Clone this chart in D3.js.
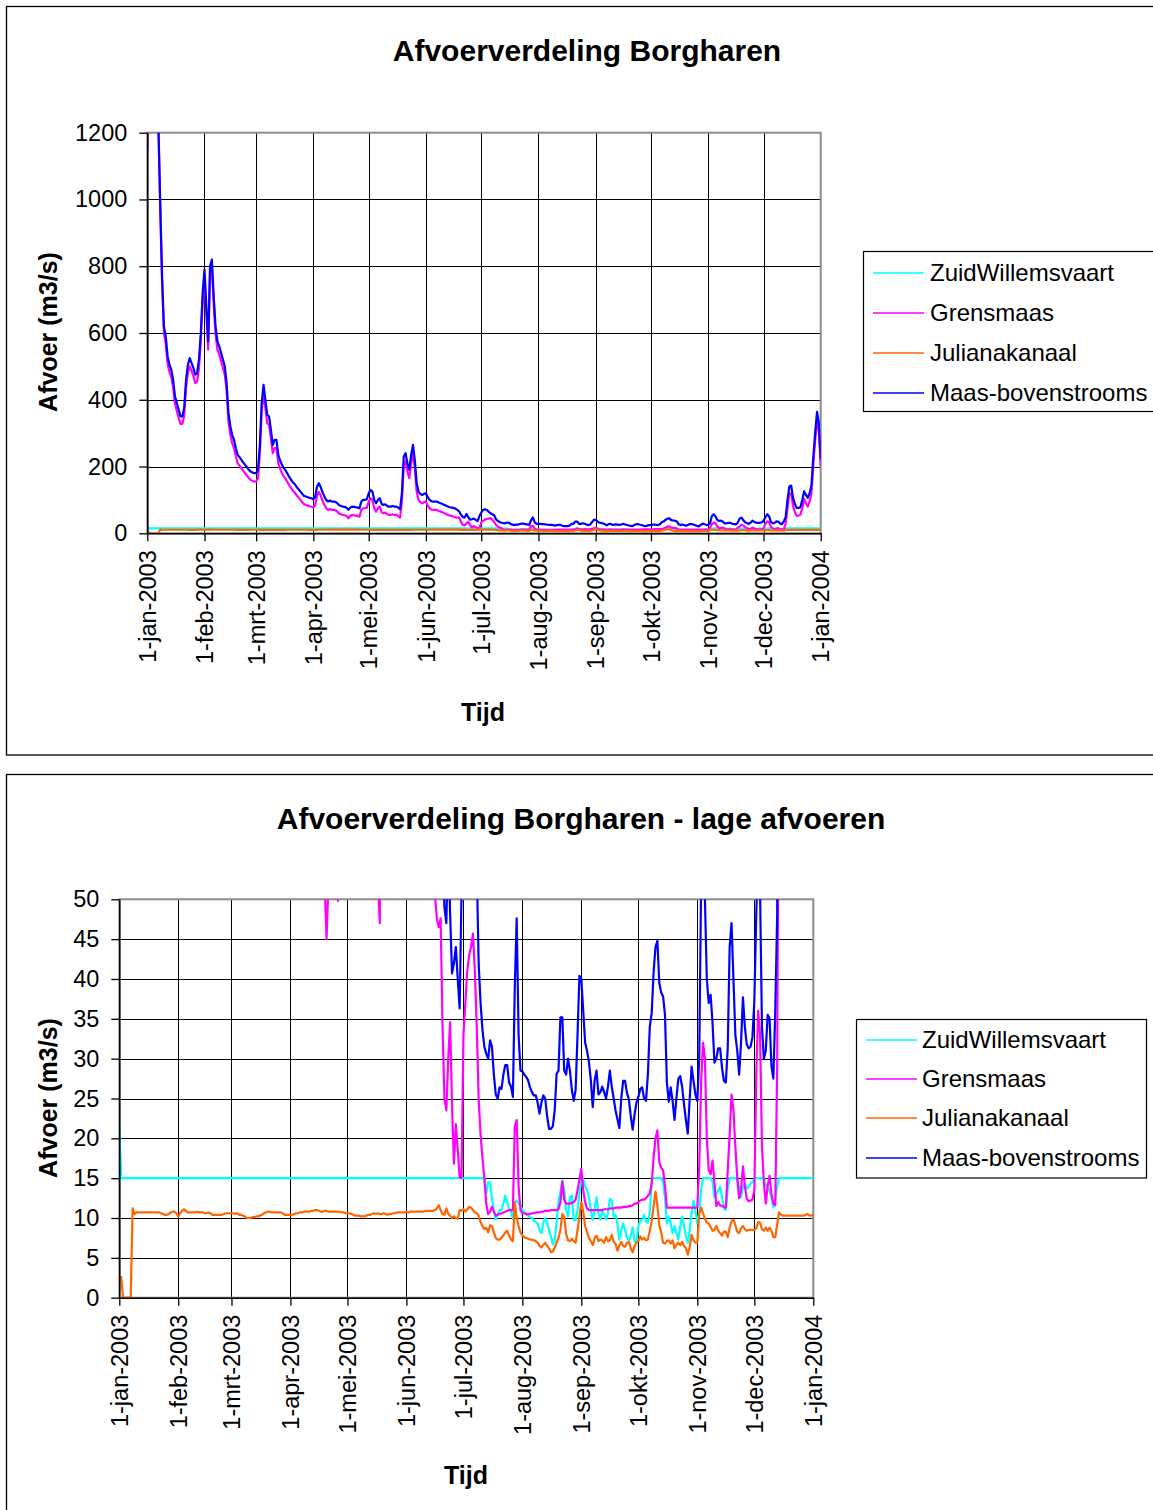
<!DOCTYPE html>
<html>
<head>
<meta charset="utf-8">
<script src="https://cdn.jsdelivr.net/npm/d3@7/dist/d3.min.js"></script>
<style>
  html, body { margin: 0; padding: 0; background: #ffffff; }
  svg { display: block; font-family: "Liberation Sans", Arial, Helvetica, sans-serif; }
</style>
</head>
<body>
<svg id="chart" width="1153" height="1510"></svg>
<script>
// Daily discharge at Borgharen, 1 Jan 2003 .. 1 Jan 2004 (m3/s), one value per day.
const startDate = new Date(Date.UTC(2003, 0, 1));
const endDate = new Date(Date.UTC(2004, 0, 1));

const monthLabels = ["1-jan-2003", "1-feb-2003", "1-mrt-2003", "1-apr-2003", "1-mei-2003", "1-jun-2003",
  "1-jul-2003", "1-aug-2003", "1-sep-2003", "1-okt-2003", "1-nov-2003", "1-dec-2003", "1-jan-2004"];

const yTicksAll = [0, 200, 400, 600, 800, 1000, 1200];
const yTicksLow = [0, 5, 10, 15, 20, 25, 30, 35, 40, 45, 50];

const seriesNames = ["ZuidWillemsvaart", "Grensmaas", "Julianakanaal", "Maas-bovenstrooms"];
const seriesColors = ["#00FFFF", "#FF00FF", "#FF6600", "#0000FF"];

const zuidWillemsvaart = [
  /* jan */ 21.5,15,15,15,15,15,15,15,15,15,15,15,15,15,15,15,15,15,15,15,15,15,15,15,15,15,15,15,15,15,15,
  /* feb */ 15,15,15,15,15,15,15,15,15,15,15,15,15,15,15,15,15,15,15,15,15,15,15,15,15,15,15,15,
  /* mrt */ 15,15,15,15,15,15,15,15,15,15,15,15,15,15,15,15,15,15,15,15,15,15,15,15,15,15,15,15,15,15,15,
  /* apr */ 15,15,15,15,15,15,15,15,15,15,15,15,15,15,15,15,15,15,15,15,15,15,15,15,15,15,15,15,15,15,
  /* mei */ 15,15,15,15,15,15,15,15,15,15,15,15,15,15,15,15,15,15,15,15,15,15,15,15,15,15,15,15,15,15,15,
  /* jun */ 15,15,15,15,15,15,15,15,15,15,15,15,15,15,15,15,15,15,15,15,15,15,15,15,15,15,15,15,15,15,
  /* jul */ 15,15,15,15,15,15,15,15,15,15,15,15,13.1,14.5,14.4,12.5,10.8,9.8,10.5,11,11,11.8,12.8,12,11.2,10.8,9.9,12,12.2,11.8,11.6,
  /* aug */ 11,10.8,10.5,10.3,10.1,10,9.7,9.5,9.3,8.5,8.1,9.4,10,9.4,8.5,7.7,6.7,7.2,9.5,12.2,13.3,14.7,13.5,11,10.2,12.6,12.8,9.8,9.7,11,13.1,
  /* sep */ 14.7,14.9,14,13.5,12.6,11,9.8,11,12.6,10.6,9.8,11,10.4,9.8,10.6,12.4,12.2,10.2,10.4,9.3,7.3,8.5,9.3,8.5,7.5,7.2,7.8,8.8,7.1,6.9,
  /* okt */ 9,9.6,9.8,10.4,9.6,9.4,10.6,14.7,15,15,15,15,15,14.5,12.5,9.3,10.2,9.3,8.1,9,8.1,7.3,9,10.2,9,7.7,6.9,8.5,10.6,12.2,11,
  /* nov */ 9.3,10.6,13.5,15,15,15,15,15,14.6,12.6,13,13.5,13.9,12.6,11.2,11,13.5,15,15,15,15,14.8,13.9,12.6,13.9,14.3,13.7,13.9,14.3,14.5,
  /* dec */ 15,15,15,15,15,15,14.2,13.8,13.4,12.6,11.3,12.4,14,15,15,15,15,15,15,15,15,15,15,15,15,15,15,15,15,15,15,
  /* 1 jan 2004 */ 15
];

const grensmaas = [
  /* jan */ 1145,1650,2270,2680,2580,1980,1215,975,755,600,568,508,483,468,438,388,367,346,328,328,352,436,480,500,487,470,450,455,495,575,695,
  /* feb */ 765,655,550,775,795,685,595,550,535,515,495,475,425,335,295,270,255,230,210,203,195,187,180,173,165,160,157,155,
  /* mrt */ 155,165,240,365,420,375,330,325,285,240,255,255,210,193,180,170,163,153,143,135,127,122,113,107,100,93,87,85,83,81,80,
  /* apr */ 77,84,114,124,113,97,85,75,70,73,70,70,69,65,59,57,55,54,52,45,52,55,54,53,52,49.8,70,75,75,77,
  /* mei */ 95,105,100,75,65,75,80,63,60,62,57,55,55,57,55,55,52,47,95,205,215,185,165,210,240,195,125,100,93,90,93,
  /* jun */ 95,83,75,71,70,70,70,67,65,63,60,58,55,53,52,50.5,47.6,46.5,47.6,34,25,23.5,30,34.6,24,16.8,21.8,18.5,15.1,15,
  /* jul */ 33,37,41,43,44,45.7,41,34,25,20.5,17.5,15,11.8,10.5,10.8,11.4,10.8,10.3,10.4,10.5,10.6,10.7,10.8,10.9,11,11,11,21.5,22.3,14,11,
  /* aug */ 10.6,10.6,10.5,10.5,10.5,10.6,10.6,10.7,10.7,10.7,10.8,10.8,10.9,10.9,10.9,11,11,11,11,11.1,12,14.6,12.3,11.8,11.8,11.8,11.9,12,12.3,13.5,14.8,
  /* sep */ 16.2,13.5,12,11.2,11,11,11,11,11,11,11,11,11.1,11.1,11.1,11.2,11.2,11.2,11.3,11.3,11.3,11.3,11.4,11.4,11.4,11.5,11.5,11.6,11.8,11.8,
  /* okt */ 12,12.2,12.3,12.3,12.5,12.8,13.1,14.3,17.6,20,21,17,16.3,16,14,11.3,11.3,11.3,11.3,11.3,11.3,11.3,11.3,11.3,11.3,11.3,11.3,11.3,11.3,11.3,11.3,
  /* nov */ 11.3,16.5,27,32,30,20,16,15.5,17.2,14.5,11.5,12,11.6,11.5,11.4,11.3,16,20.4,25.5,23.5,19,15,12.5,13.5,16.5,14,12.4,12.1,12.2,12.3,
  /* dec */ 13.5,28,36,33,19,14.5,11.8,14,15.3,13,11.8,11.6,29,75,120,118,82,63,52,53,56,75,103,90,80,95,120,205,280,338,305,
  /* 1 jan 2004 */ 200
];

const julianakanaal = [
  /* jan */ 2.6,2.6,0,0,0,0,0,11.2,10.5,10.7,10.7,10.7,10.7,10.7,10.7,10.7,10.7,10.7,10.7,10.7,10.7,10.7,10.6,10.5,10.4,10.4,10.5,10.7,10.8,10.8,10.6,
  /* feb */ 10.2,10.6,10.9,11.1,10.9,10.7,10.7,10.7,10.7,10.7,10.8,10.7,10.7,10.7,10.6,10.6,10.7,10.6,10.4,10.4,10.4,10.4,10.4,10.4,10.5,10.6,10.6,10.6,
  /* mrt */ 10.6,10.6,10.5,10.6,10.4,10.4,10.3,10.2,10,10,10,10.1,10.1,10.2,10.2,10.3,10.4,10.6,10.7,10.8,10.8,10.7,10.7,10.7,10.7,10.7,10.7,10.6,10.4,10.4,10.4,
  /* apr */ 10.4,10.4,10.5,10.6,10.6,10.7,10.7,10.8,10.8,10.8,10.8,10.9,10.9,11,11,10.9,10.8,10.8,10.9,10.9,10.8,10.8,10.8,10.8,10.8,10.8,10.8,10.7,10.7,10.6,
  /* mei */ 10.6,10.6,10.5,10.4,10.3,10.3,10.3,10.2,10.2,10.2,10.3,10.4,10.4,10.5,10.6,10.5,10.6,10.5,10.5,10.6,10.5,10.4,10.5,10.5,10.6,10.6,10.7,10.7,10.7,10.7,10.7,
  /* jun */ 10.7,10.7,10.8,10.8,10.8,10.8,10.8,10.8,10.8,10.8,10.9,10.9,10.9,10.9,10.9,11,11.2,11.6,11,10.5,10.4,11.2,10.5,10.3,10,10.2,10,9.9,11,10.9,
  /* jul */ 11.1,10.8,11.1,11.4,11.3,11,10.7,10.6,10.3,9.5,9,8.6,8.8,8.2,9.1,9,8.2,7.5,7.3,7.3,7.5,7.8,8.2,8.4,7.8,7.3,7.1,12,10,9,8.2,
  /* aug */ 7.8,7.6,7.5,7.4,7.3,7.3,7.2,7.1,6.9,6.5,6.3,6.6,6.9,6.5,6.2,5.7,5.8,6.3,6.9,7.5,8.5,10.5,10.2,8,7.2,7.1,7.4,7.1,6.9,8.5,10.2,
  /* sep */ 12,10.8,9,8.2,7.5,7.1,6.6,7.5,7.8,7.1,7.3,7.2,6.9,7.6,7.1,7.2,7.9,7,6.8,5.9,6.6,7,6.5,6.4,6.9,7,6.2,5.7,6.5,6.9,
  /* okt */ 7.1,7.7,7.3,7.5,7.2,7.3,8.4,9.6,11.5,13.3,11.6,9.1,8.2,6.9,6.8,7.1,7.2,6.8,7.2,6.2,6.6,6.9,6.6,7,6.5,6.2,5.4,6.4,7.9,7.2,6.9,
  /* nov */ 6.9,10.5,11.3,10.6,9.9,9.4,9.3,8.9,8.4,8.5,9,8.4,8.1,7.8,8.3,8.3,7.6,8.8,9.6,9.8,9.1,8.3,8.1,8.7,9,8.6,8.4,8.5,8.5,8.5,
  /* dec */ 8.5,8.7,9.5,9.4,8.6,8.4,8.8,8.4,8.8,8.4,7.6,7.6,9.2,10.7,10.4,10.3,10.3,10.3,10.3,10.3,10.3,10.3,10.3,10.3,10.3,10.3,10.3,10.4,10.5,10.3,10.3,
  /* 1 jan 2004 */ 10.4
];

const maasBovenstrooms = [
  /* jan */ 1230,1700,2300,2700,2600,2000,1230,990,770,620,590,530,505,490,460,410,390,370,350,350,375,460,505,525,510,495,475,480,520,600,720,
  /* feb */ 790,680,575,800,820,710,620,575,560,540,520,500,450,360,320,295,280,255,235,228,220,212,205,198,190,185,182,180,
  /* mrt */ 180,190,265,390,445,400,355,350,310,265,280,280,235,218,205,195,188,178,168,160,152,147,138,132,125,118,112,110,108,106,105,
  /* apr */ 102,110,140,150,138,122,110,100,95,98,95,95,94,90,84,82,80,79,77,70,77,80,79,78,77,75,95,100,100,102,
  /* mei */ 120,130,125,100,90,100,105,88,85,87,82,80,80,82,80,80,77,72,120,230,240,210,190,235,265,220,150,125,118,115,118,
  /* jun */ 120,108,100,96,95,95,95,92,90,88,85,83,80,78,77,76,74,70,66,56,49,47,58,48,40.7,42,44,40,36.3,51,
  /* jul */ 62,70,72,70,65,60,57,54,42,37,33.6,31.5,30.6,30,32.3,31.5,28,25.5,25,26.4,26.2,28,29.2,29.2,27,26.5,25.2,39,47.6,33,28.5,
  /* aug */ 28.4,28,27.7,27.3,26.4,25.8,25.4,25.4,24.5,23.1,24.5,25.4,25,22.8,21.2,21.2,21.5,23.5,28.1,28.5,35.2,35.2,28.5,28,30,28.5,26.1,24.7,26.1,33,40.4,
  /* sep */ 40,36,32,31,29.6,27.3,23.9,27.3,28.5,25.5,25.8,26.5,25.8,25,26.5,28.5,26.5,25,23.5,22.4,21.3,25,27.2,27.2,25.7,24.9,22.8,21.1,23,24.5,
  /* okt */ 25.2,26.2,26.4,25,24.7,28,34,35.7,40.8,44,44.8,39.5,38.3,37.8,35.5,27,24.6,26.4,24.7,22.3,25,27.5,27.8,26.5,24.3,22.3,20.6,25,29,27.2,25.5,
  /* nov */ 24.7,30,52,57,50,40,37,38,34.5,29.5,30,31.3,31.3,28.8,27.2,27,31.3,44,47,40,33,31,28,32,37.7,34,31.8,31.3,31.5,32.7,
  /* dec */ 37.3,48,57,51,34,30,31,35.5,35,29,27.5,36,48,100,140,143,106,88,76,76,78,100,126,115,106,120,145,230,300,364,330,
  /* 1 jan 2004 */ 222
];

const seriesValues = [zuidWillemsvaart, grensmaas, julianakanaal, maasBovenstrooms];

const svg = d3.select("#chart");
svg.append("rect").attr("width", 1153).attr("height", 1510).attr("fill", "#ffffff");

const days = maasBovenstrooms.map((_, i) => d3.utcDay.offset(startDate, i));
const monthDates = d3.utcMonth.range(startDate, d3.utcDay.offset(endDate, 1));

function drawChart(cfg) {
  const g = svg.append("g");

  // outer chart frame
  g.append("rect")
    .attr("x", cfg.frame[0]).attr("y", cfg.frame[1])
    .attr("width", cfg.frame[2]).attr("height", cfg.frame[3])
    .attr("fill", "#ffffff").attr("stroke", "#000000").attr("stroke-width", 1.3);

  const x = d3.scaleUtc().domain([startDate, endDate]).range([cfg.left, cfg.right]);
  const y = d3.scaleLinear().domain([0, cfg.yMax]).range([cfg.bottom, cfg.top]);

  // title
  g.append("text")
    .attr("x", cfg.titlePos[0]).attr("y", cfg.titlePos[1]).attr("dy", "0.35em")
    .attr("text-anchor", "middle").attr("font-weight", "bold").attr("font-size", 30)
    .text(cfg.title);

  // horizontal gridlines
  g.append("g").selectAll("line")
    .data(cfg.yTicks.filter(t => t > 0 && t < cfg.yMax))
    .join("line")
    .attr("x1", cfg.left).attr("x2", cfg.right)
    .attr("y1", d => Math.round(y(d)) + 0.5).attr("y2", d => Math.round(y(d)) + 0.5)
    .attr("stroke", "#000000").attr("stroke-width", 1);

  // vertical gridlines at the first of each month
  g.append("g").selectAll("line")
    .data(monthDates.slice(1, -1))
    .join("line")
    .attr("x1", d => Math.round(x(d)) + 0.5).attr("x2", d => Math.round(x(d)) + 0.5)
    .attr("y1", cfg.top).attr("y2", cfg.bottom)
    .attr("stroke", "#000000").attr("stroke-width", 1);

  // plot-area border (grey)
  g.append("rect")
    .attr("x", cfg.left).attr("y", cfg.top)
    .attr("width", cfg.right - cfg.left).attr("height", cfg.bottom - cfg.top)
    .attr("fill", "none").attr("stroke", "#8c8c8c").attr("stroke-width", 2);

  // series lines, clipped to the plot area
  const clipId = "clip-" + cfg.id;
  g.append("clipPath").attr("id", clipId)
    .append("rect")
    .attr("x", cfg.left).attr("y", cfg.top)
    .attr("width", cfg.right - cfg.left).attr("height", cfg.bottom - cfg.top);

  const line = d3.line()
    .x((v, i) => x(days[i]))
    .y(v => y(v));

  const lines = g.append("g").attr("clip-path", `url(#${clipId})`);
  seriesValues.forEach((vals, k) => {
    lines.append("path")
      .datum(vals)
      .attr("d", line)
      .attr("fill", "none")
      .attr("stroke", seriesColors[k])
      .attr("stroke-width", 2.2)
      .attr("stroke-linejoin", "round");
  });

  // y axis
  const yAxis = g.append("g")
    .attr("transform", `translate(${cfg.left},0)`)
    .call(d3.axisLeft(y).tickValues(cfg.yTicks).tickFormat(d3.format("d"))
      .tickSize(8).tickSizeOuter(0).tickPadding(12));
  yAxis.select(".domain").attr("stroke", "#000000").attr("stroke-width", 1.5);
  yAxis.selectAll(".tick line").attr("stroke", "#000000").attr("stroke-width", 1.3);
  yAxis.selectAll(".tick text")
    .attr("font-family", "Liberation Sans, Arial, sans-serif")
    .attr("font-size", 23.5).attr("fill", "#000000");

  // x axis with rotated month labels
  const xAxis = g.append("g")
    .attr("transform", `translate(0,${cfg.bottom})`)
    .call(d3.axisBottom(x).tickValues(monthDates).tickFormat((d, i) => monthLabels[i])
      .tickSize(8).tickSizeOuter(0));
  xAxis.select(".domain").attr("stroke", "#000000").attr("stroke-width", 1.5);
  xAxis.selectAll(".tick line").attr("stroke", "#000000").attr("stroke-width", 1.3);
  xAxis.selectAll(".tick text")
    .attr("font-family", "Liberation Sans, Arial, sans-serif")
    .attr("font-size", 23.5).attr("fill", "#000000")
    .attr("transform", "rotate(-90)")
    .attr("text-anchor", "end")
    .attr("x", -17).attr("y", 0).attr("dy", "0.35em");

  // axis titles
  g.append("text")
    .attr("transform", `translate(${cfg.yTitlePos[0]},${cfg.yTitlePos[1]}) rotate(-90)`)
    .attr("dy", "0.35em").attr("text-anchor", "middle")
    .attr("font-weight", "bold").attr("font-size", 25)
    .text("Afvoer (m3/s)");
  g.append("text")
    .attr("x", cfg.xTitlePos[0]).attr("y", cfg.xTitlePos[1]).attr("dy", "0.35em")
    .attr("text-anchor", "middle").attr("font-weight", "bold").attr("font-size", 25)
    .text("Tijd");

  // legend
  const lg = g.append("g");
  lg.append("rect")
    .attr("x", cfg.legend.x).attr("y", cfg.legend.y)
    .attr("width", cfg.legend.w).attr("height", cfg.legend.h)
    .attr("fill", "#ffffff").attr("stroke", "#000000").attr("stroke-width", 1.2);
  seriesNames.forEach((name, k) => {
    const ry = cfg.legend.rows[k];
    lg.append("line")
      .attr("x1", cfg.legend.lineX[0]).attr("x2", cfg.legend.lineX[1])
      .attr("y1", ry).attr("y2", ry)
      .attr("stroke", seriesColors[k]).attr("stroke-width", 1.5);
    lg.append("text")
      .attr("x", cfg.legend.textX).attr("y", ry).attr("dy", "0.35em")
      .attr("font-size", 24).attr("fill", "#000000")
      .text(name);
  });
}

drawChart({
  id: "all",
  frame: [6.5, 6.5, 1200, 748.5],
  left: 147.3, right: 820.7, top: 132.7, bottom: 533.3,
  yMax: 1200, yTicks: yTicksAll,
  title: "Afvoerverdeling Borgharen", titlePos: [587, 50],
  yTitlePos: [48, 332], xTitlePos: [483, 712],
  legend: { x: 863.5, y: 251.5, w: 400, h: 160, rows: [273, 313, 353, 393], lineX: [873, 924], textX: 930 }
});

drawChart({
  id: "low",
  frame: [6.5, 774.5, 1200, 800],
  left: 119.3, right: 813.3, top: 899.3, bottom: 1297.7,
  yMax: 50, yTicks: yTicksLow,
  title: "Afvoerverdeling Borgharen - lage afvoeren", titlePos: [581, 818],
  yTitlePos: [48, 1098], xTitlePos: [466, 1475],
  legend: { x: 856.5, y: 1019.5, w: 290, h: 158.5, rows: [1040, 1079, 1118, 1158], lineX: [866, 917], textX: 922 }
});
</script>
</body>
</html>
